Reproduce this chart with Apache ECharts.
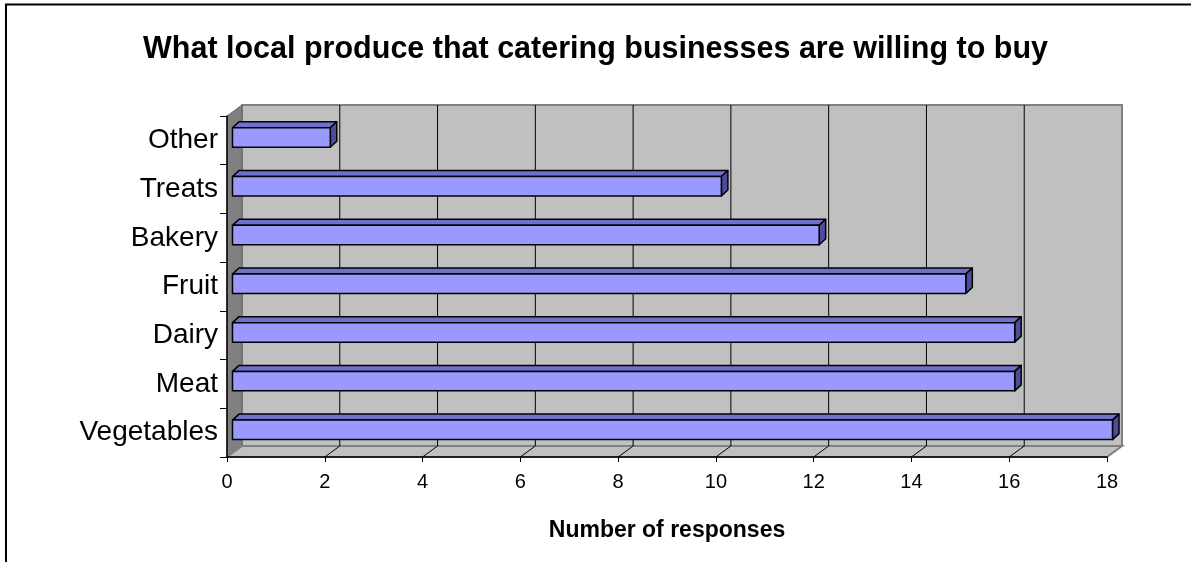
<!DOCTYPE html>
<html>
<head>
<meta charset="utf-8">
<script src="https://cdn.jsdelivr.net/npm/echarts@6/dist/echarts.min.js"></script>
<style>
  html, body { margin: 0; padding: 0; background: #ffffff; }
  #chart { width: 1191px; height: 562px; }
</style>
</head>
<body>
<div id="chart"></div>
<script>
// ---- data ----
const titleText = 'What local produce that catering businesses are willing to buy';
const axisTitle = 'Number of responses';
const categories = ['Vegetables', 'Meat', 'Dairy', 'Fruit', 'Bakery', 'Treats', 'Other'];
const responses = [18, 16, 16, 15, 12, 10, 2];
const xMin = 0;
const xMax = 18;
const xStep = 2;

// ---- 3D look (styling only) ----
const DX = 15, DY = -11;      // wall depth offset
const BX = 5.5, BY = -2.8;    // bar front-face offset
const BDX = 6.5, BDY = 6;     // bar depth
const LINE = '#000000';
const FONT = 'Liberation Sans, Arial, sans-serif';

const chart = echarts.init(document.getElementById('chart'), null, { renderer: 'canvas' });

function renderWalls(params, api) {
  const cs = params.coordSys;
  const x = cs.x, y = cs.y, w = cs.width, h = cs.height;
  const children = [];
  // back wall
  children.push({ type: 'rect', shape: { x: x + DX, y: y + DY, width: w, height: h },
    style: { fill: '#c0c0c0', stroke: '#808080', lineWidth: 2 } });
  // left wall
  children.push({ type: 'polygon', shape: { points: [[x, y], [x + DX, y + DY], [x + DX, y + h + DY], [x, y + h]] },
    style: { fill: '#808080', stroke: '#666666', lineWidth: 1 } });
  // floor
  children.push({ type: 'polygon', shape: { points: [[x, y + h], [x + DX, y + h + DY], [x + w + DX, y + h + DY], [x + w, y + h]] },
    style: { fill: '#c0c0c0', stroke: '#808080', lineWidth: 2 } });
  // grid lines on wall and floor
  for (let v = xMin + xStep; v < xMax; v += xStep) {
    const px = api.coord([v, 0])[0];
    children.push({ type: 'line', shape: { x1: px + DX, y1: y + DY, x2: px + DX, y2: y + h + DY },
      style: { stroke: LINE, lineWidth: 1 } });
    children.push({ type: 'line', shape: { x1: px, y1: y + h, x2: px + DX, y2: y + h + DY },
      style: { stroke: LINE, lineWidth: 1 } });
  }
  return { type: 'group', children: children };
}

function renderBar(params, api) {
  const val = api.value(0);
  const idx = api.value(1);
  const p0 = api.coord([0, idx]);
  const p1 = api.coord([val, idx]);
  const band = api.size([0, 1])[1];
  const hgt = band * 0.4;
  const x0 = p0[0] + BX, x1 = p1[0] + BX;
  const yc = p0[1] + BY;
  const yT = yc - hgt / 2, yB = yc + hgt / 2;
  const st = { stroke: LINE, lineWidth: 1.5, lineJoin: 'round' };
  return {
    type: 'group',
    children: [
      { type: 'polygon', shape: { points: [[x0, yT], [x0 + BDX, yT - BDY], [x1 + BDX, yT - BDY], [x1, yT]] },
        style: Object.assign({ fill: '#6f6fcc' }, st) },
      { type: 'polygon', shape: { points: [[x1, yT], [x1 + BDX, yT - BDY], [x1 + BDX, yB - BDY], [x1, yB]] },
        style: Object.assign({ fill: '#4d4d99' }, st) },
      { type: 'rect', shape: { x: x0, y: yT, width: x1 - x0, height: hgt },
        style: Object.assign({ fill: '#9999ff' }, st) }
    ]
  };
}

const option = {
  backgroundColor: '#ffffff',
  animation: false,
  title: {
    text: titleText,
    left: 'center',
    top: 29,
    textStyle: { fontFamily: FONT, fontSize: 30.5, fontWeight: 'bold', color: '#000' }
  },
  graphic: [{
    type: 'rect', z: 100, silent: true,
    shape: { x: 6, y: 4.5, width: 1400, height: 800 },
    style: { fill: 'none', stroke: '#000', lineWidth: 2 }
  }],
  grid: { left: 227, right: 84, top: 116, bottom: 105, containLabel: false },
  xAxis: {
    type: 'value', min: xMin, max: xMax, interval: xStep, z: 10,
    name: axisTitle, nameLocation: 'middle', nameGap: 62,
    nameTextStyle: { fontFamily: FONT, fontSize: 23, fontWeight: 'bold', color: '#000' },
    axisLine: { show: true, lineStyle: { color: '#000', width: 1.5 } },
    axisTick: { show: true, length: 5, lineStyle: { color: '#000' } },
    axisLabel: { margin: 15, fontFamily: FONT, fontSize: 20, color: '#000' },
    splitLine: { show: false }
  },
  yAxis: {
    type: 'category', data: categories, z: 10,
    axisLine: { show: true, lineStyle: { color: '#000', width: 1.5 } },
    axisTick: { show: true, length: 7, lineStyle: { color: '#000' } },
    axisLabel: { margin: 9, fontFamily: FONT, fontSize: 28, color: '#000' },
    splitLine: { show: false }
  },
  series: [
    { type: 'custom', z: 1, clip: false, silent: true, renderItem: renderWalls, data: [[0, 0]], encode: { x: 0, y: 1 } },
    { type: 'custom', z: 2, clip: false, renderItem: renderBar,
      data: responses.map((v, i) => [v, i]), encode: { x: 0, y: 1 } }
  ]
};
chart.setOption(option);
</script>
</body>
</html>
